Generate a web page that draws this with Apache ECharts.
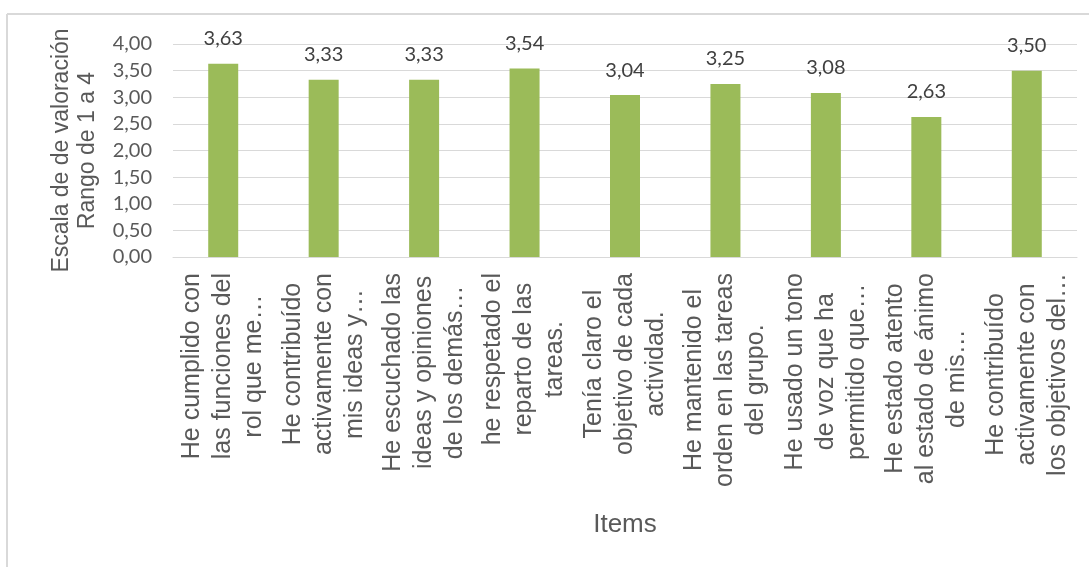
<!DOCTYPE html>
<html>
<head>
<meta charset="utf-8">
<script src="https://cdn.jsdelivr.net/npm/echarts@6/dist/echarts.min.js"></script>
<style>
  html, body { margin: 0; padding: 0; background: #fff; }
  #main { width: 1089px; height: 567px; }
</style>
</head>
<body>
<div id="main"></div>
<script>
const categories = [
  'He cumplido con\nlas funciones del\nrol que me…',
  'He contribuído\nactivamente con\nmis ideas y…',
  'He escuchado las\nideas y opiniones\nde los demás…',
  'he respetado el\nreparto de las\ntareas.',
  'Tenía claro el\nobjetivo de cada\nactividad.',
  'He mantenido el\norden en las tareas\ndel grupo.',
  'He usado un tono\nde voz que ha\npermitido que…',
  'He estado atento\nal estado de ánimo\nde mis…',
  'He contribuído\nactivamente con\nlos objetivos del…'
]
const values = [3.63, 3.33, 3.33, 3.54, 3.04, 3.25, 3.08, 2.63, 3.50]
const yTicks = [0, 0.5, 1, 1.5, 2, 2.5, 3, 3.5, 4]

const fmt = (v) => v.toFixed(2).replace('.', ',')

const chart = echarts.init(document.getElementById('main'))

const option = {
  backgroundColor: '#fff',
  animation: false,
  graphic: [
    { type: 'line', shape: { x1: 7, y1: 14, x2: 1089, y2: 14 }, style: { stroke: '#d9d9d9', lineWidth: 2 } },
    { type: 'line', shape: { x1: 7, y1: 14, x2: 7, y2: 567 }, style: { stroke: '#d9d9d9', lineWidth: 2 } }
  ],
  grid: { left: 173, right: 12, top: 44, bottom: 310 },
  xAxis: {
    type: 'category',
    data: categories,
    name: 'Items',
    nameLocation: 'middle',
    nameGap: 255,
    nameTextStyle: { fontFamily: 'Liberation Sans', fontSize: 26, color: '#595959' },
    axisLine: { lineStyle: { color: '#d9d9d9', width: 1 } },
    axisTick: { show: false },
    axisLabel: {
      interval: 0,
      rotate: 90,
      margin: 16,
      formatter: (s) => s.split('\n').map((l) => '{c|' + l + '}').join('\n'),
      rich: {
        c: { align: 'center', fontFamily: 'Liberation Sans', fontSize: 25, lineHeight: 31, color: '#595959' }
      }
    }
  },
  yAxis: {
    type: 'value',
    min: yTicks[0],
    max: yTicks[yTicks.length - 1],
    interval: 0.5,
    name: 'Escala de de valoración\nRango de 1 a 4',
    nameLocation: 'middle',
    nameGap: 72,
    nameTextStyle: { fontFamily: 'Liberation Sans', fontSize: 23, lineHeight: 26, color: '#595959' },
    axisLine: { show: false },
    axisTick: { show: false },
    splitLine: { lineStyle: { color: '#d9d9d9', width: 1 } },
    axisLabel: {
      margin: 21,
      fontFamily: 'Lato',
      fontSize: 20,
      color: '#595959',
      formatter: (v) => fmt(v)
    }
  },
  series: [
    {
      type: 'bar',
      data: values,
      barWidth: 30,
      itemStyle: { color: '#9bbb59' },
      label: {
        show: true,
        position: 'top',
        distance: 15,
        fontFamily: 'Lato',
        fontSize: 20,
        color: '#404040',
        formatter: (p) => fmt(p.value)
      }
    }
  ]
}

chart.setOption(option)
</script>
</body>
</html>
